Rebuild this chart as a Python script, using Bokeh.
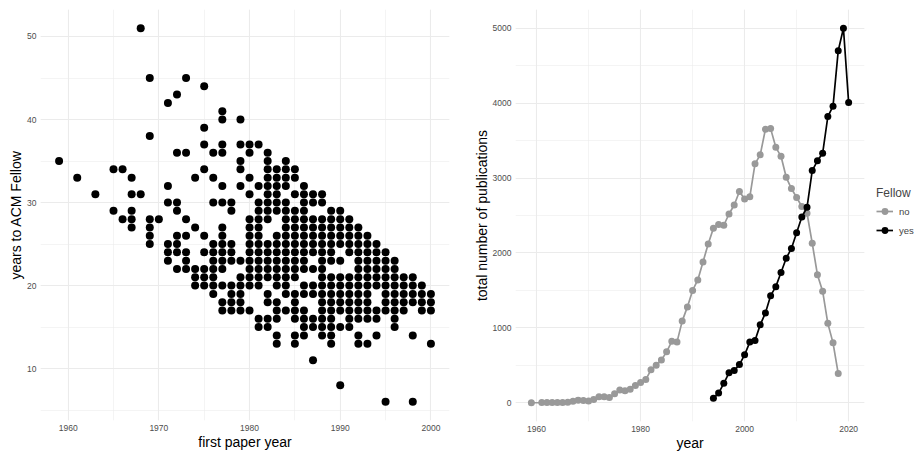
from bokeh.plotting import figure
from bokeh.layouts import row
from bokeh.models import SingleIntervalTicker, Range1d, Legend, LegendItem
from bokeh.embed import file_html
from bokeh.resources import INLINE

FONT = "Liberation Sans"

# ---- left panel data: first paper year -> years to ACM Fellow ----
years_to_fellow = {
    1959: [35],
    1961: [33],
    1963: [31],
    1965: [34, 29],
    1966: [34, 28],
    1967: [33, 31, 29, 28, 27],
    1968: [51, 31],
    1969: [45, 38, 28, 27, 26, 25],
    1970: [28],
    1971: [42, 32, 30, 25, 24, 23],
    1972: [43, 36, 30, 29, 26, 25, 24, 22],
    1973: [45, 36, 28, 26, 24, 23, 22],
    1974: [33, 27, 22, 21, 20],
    1975: [44, 39, 37, 34, 26, 24, 22, 21, 20],
    1976: [36, 33, 30, 25, 24, 23, 22, 21, 20, 19],
    1977: [41, 40, 37, 36, 32, 30, 27, 26, 25, 24, 23, 22, 20, 18, 17],
    1978: [30, 29, 25, 24, 23, 20, 19, 18, 17],
    1979: [40, 37, 35, 34, 32, 23, 21, 20, 19, 18, 17],
    1980: [37, 36, 33, 31, 28, 27, 26, 25, 24, 23, 22, 21, 20, 17],
    1981: [37, 32, 30, 29, 28, 27, 26, 25, 24, 23, 22, 21, 20, 16, 15],
    1982: [36, 35, 34, 33, 32, 31, 30, 29, 28, 25, 24, 23, 22, 21, 19, 18, 16, 15],
    1983: [34, 33, 32, 31, 30, 29, 26, 25, 24, 23, 22, 21, 20, 18, 17, 16, 14, 13],
    1984: [35, 34, 33, 32, 30, 29, 28, 27, 26, 25, 24, 23, 22, 21, 20, 19, 17],
    1985: [34, 33, 31, 29, 28, 27, 26, 25, 24, 23, 22, 21, 19, 18, 17, 16, 14, 13],
    1986: [32, 31, 30, 29, 28, 27, 26, 25, 24, 23, 22, 20, 19, 17, 16, 15, 14],
    1987: [31, 30, 28, 27, 26, 25, 24, 22, 20, 19, 16, 15, 11],
    1988: [31, 30, 28, 27, 26, 25, 24, 23, 22, 21, 20, 19, 18, 17, 16, 15, 14],
    1989: [29, 28, 27, 26, 25, 24, 23, 21, 20, 19, 18, 17, 16, 15, 14, 13],
    1990: [29, 28, 27, 26, 25, 23, 21, 20, 19, 18, 17, 15, 8],
    1991: [28, 27, 26, 25, 24, 21, 20, 19, 18, 17, 16, 15],
    1992: [27, 26, 25, 24, 23, 22, 21, 20, 19, 18, 17, 16, 14, 13],
    1993: [26, 25, 24, 23, 22, 21, 20, 19, 18, 17, 16, 13],
    1994: [25, 24, 23, 22, 21, 20, 17, 16, 14],
    1995: [24, 23, 22, 21, 20, 19, 18, 17, 6],
    1996: [23, 22, 21, 20, 19, 18, 17, 16, 15],
    1997: [21, 20, 19, 18, 17],
    1998: [21, 20, 19, 18, 14, 6],
    1999: [20, 19, 18, 17],
    2000: [19, 18, 17, 13],
}

# ---- right panel data: total number of publications per year ----
years_no = [1959] + list(range(1961, 2019))
pubs_no = [0, 2, 4, 3, 5, 4, 6, 20, 35, 30, 25, 45, 80, 80, 70, 120, 170, 160, 180,
           230, 270, 310, 440, 500, 570, 680, 820, 810, 1090, 1280, 1500, 1640, 1880,
           2120, 2330, 2380, 2370, 2520, 2640, 2820, 2720, 2750, 3190, 3310, 3650,
           3660, 3410, 3290, 3010, 2860, 2740, 2620, 2530, 2130, 1710, 1490, 1060,
           800, 390]
years_yes = list(range(1994, 2021))
pubs_yes = [60, 130, 260, 400, 430, 510, 640, 810, 830, 1040, 1200, 1430, 1550, 1740,
            1930, 2060, 2270, 2480, 2610, 3100, 3230, 3330, 3820, 3960, 4700, 5000, 4010]

GRAY = "#999999"

xs, ys = [], []
for yr, vals in years_to_fellow.items():
    for v in vals:
        xs.append(yr)
        ys.append(v)


def style(p):
    p.outline_line_color = None
    p.background_fill_color = "white"
    p.border_fill_color = "white"
    for ax in (p.xaxis[0], p.yaxis[0]):
        ax.axis_line_color = None
        ax.major_tick_line_color = None
        ax.minor_tick_line_color = None
        ax.major_tick_out = 0
        ax.major_tick_in = 0
        ax.minor_tick_out = 0
        ax.minor_tick_in = 0
        ax.major_label_text_font_size = "8.5px"
        ax.major_label_text_color = "#4D4D4D"
        ax.major_label_text_font = FONT
        ax.axis_label_text_font_size = "14px"
        ax.axis_label_text_font_style = "normal"
        ax.axis_label_text_font = FONT
        ax.axis_label_text_color = "black"
    p.xaxis.major_label_standoff = 4
    p.yaxis.major_label_standoff = 4
    p.xaxis.axis_label_standoff = 0
    p.yaxis.axis_label_standoff = 0
    for g in p.grid:
        g.grid_line_color = "#EBEBEB"
        g.grid_line_width = 1.1
        g.minor_grid_line_color = "#EBEBEB"
        g.minor_grid_line_width = 0.55


left = figure(width=466, height=454, frame_width=409, frame_height=411,
              min_border_left=40, min_border_right=17,
              min_border_top=9, min_border_bottom=34,
              x_range=Range1d(1956.95, 2002.05), y_range=Range1d(3.75, 53.25),
              output_backend="svg", toolbar_location=None)
left.xaxis.ticker = SingleIntervalTicker(interval=10, num_minor_ticks=2)
left.yaxis.ticker = SingleIntervalTicker(interval=10, num_minor_ticks=2)
left.xaxis.axis_label = "first paper year"
left.yaxis.axis_label = "years to ACM Fellow"
style(left)
left.scatter(xs, ys, size=8, color="black", line_color=None)

right = figure(width=455, height=454, frame_width=349, frame_height=412,
               min_border_left=49, min_border_right=0,
               min_border_top=8, min_border_bottom=34,
               x_range=Range1d(1955.95, 2023.05), y_range=Range1d(-250, 5250),
               output_backend="svg", toolbar_location=None)
right.xaxis.ticker = SingleIntervalTicker(interval=20, num_minor_ticks=2)
right.yaxis.ticker = SingleIntervalTicker(interval=1000, num_minor_ticks=2)
right.xaxis.axis_label = "year"
right.yaxis.axis_label = "total number of publications"
style(right)

l_no = right.line(years_no, pubs_no, line_color=GRAY, line_width=1.7)
s_no = right.scatter(years_no, pubs_no, size=7, color=GRAY, line_color=None)
l_yes = right.line(years_yes, pubs_yes, line_color="black", line_width=1.7)
s_yes = right.scatter(years_yes, pubs_yes, size=7, color="black", line_color=None)

legend = Legend(items=[LegendItem(label="no", renderers=[l_no, s_no]),
                       LegendItem(label="yes", renderers=[l_yes, s_yes])],
                title="Fellow", location=(12, 182), orientation="vertical")
legend.title_text_font_size = "12px"
legend.title_text_font_style = "normal"
legend.title_text_font = FONT
legend.label_text_font_size = "9.5px"
legend.label_text_font = FONT
legend.glyph_width = 17
legend.glyph_height = 18
legend.label_height = 18
legend.label_width = 14
legend.label_standoff = 6
legend.spacing = 1
legend.padding = 10
legend.margin = 0
legend.title_standoff = 2
legend.border_line_color = None
legend.background_fill_alpha = 0
right.add_layout(legend, "right")

layout = row(left, right, spacing=0)
open("out.html", "w").write(file_html(layout, INLINE))
